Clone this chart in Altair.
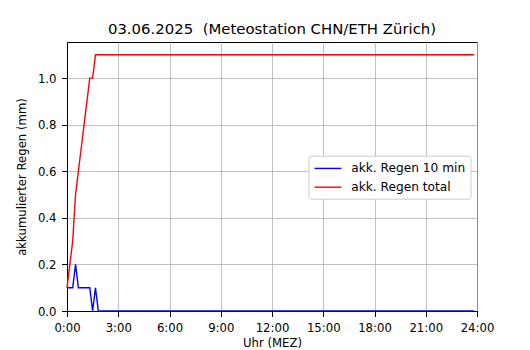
import altair as alt
import pandas as pd

# time of day in minutes after midnight (10-min steps; constant tail after 1:50)
minutes = [0, 10, 20, 30, 40, 50, 60, 70, 80, 90, 100, 110, 1430]
rain_10min = [0.1, 0.1, 0.1, 0.2, 0.1, 0.1, 0.1, 0.1, 0.1, 0.0, 0.1, 0.0, 0.0]
rain_total = [0.1, 0.2, 0.3, 0.5, 0.6, 0.7, 0.8, 0.9, 1.0, 1.0, 1.1, 1.1, 1.1]

series_names = ["akk. Regen 10 min", "akk. Regen total"]
series_colors = ["#0000ff", "#ff0000"]
x_ticks = [0, 180, 360, 540, 720, 900, 1080, 1260, 1440]
y_ticks = [0.0, 0.2, 0.4, 0.6, 0.8, 1.0]

rows = []
for t, v in zip(minutes, rain_10min):
    rows.append({"t": t, "v": v, "s": series_names[0]})
for t, v in zip(minutes, rain_total):
    rows.append({"t": t, "v": v, "s": series_names[1]})
df = pd.DataFrame(rows)

FONT = "DejaVu Sans"

chart = alt.Chart(df).mark_line(strokeWidth=1.4).encode(
    x=alt.X("t:Q",
            scale=alt.Scale(domain=[0, 1440], nice=False, zero=False),
            axis=alt.Axis(values=x_ticks, labelExpr="floor(datum.value/60) + ':00'",
                          title="Uhr (MEZ)", titlePadding=4, labelPadding=5.5,
                          labelFlush=False)),
    y=alt.Y("v:Q",
            scale=alt.Scale(domain=[0, 1.155], nice=False, zero=False),
            axis=alt.Axis(values=y_ticks, format=".1f",
                          title="akkumulierter Regen (mm)", titlePadding=10,
                          labelPadding=5.5)),
    color=alt.Color("s:N",
                    scale=alt.Scale(domain=series_names, range=series_colors),
                    legend=alt.Legend(title=None, orient="none", legendX=241.5, legendY=113.7,
                                      symbolType="M-1,0H3", symbolSize=182,
                                      symbolStrokeWidth=1.4, labelOffset=22.5,
                                      labelFontSize=12.2, labelFont=FONT, labelColor="black",
                                      padding=5.2, rowPadding=4.8,
                                      fillColor="white", strokeColor="#cccccc",
                                      cornerRadius=3)),
    order=alt.Order("t:Q"),
).properties(
    width=410,
    height=269,
    background="white",
    title=alt.TitleParams("03.06.2025\u00a0 (Meteostation CHN/ETH Zürich)",
                          font=FONT, fontSize=14.9, fontWeight="normal",
                          color="black", anchor="middle", offset=5),
    autosize=alt.AutoSizeParams(type="none"),
    padding={"left": 67, "top": 42, "right": 53, "bottom": 39},
).configure_view(
    stroke="black", strokeWidth=1
).configure_axis(
    domainColor="black", domainWidth=1,
    tickColor="black", tickSize=5.5, tickWidth=1,
    gridColor="#b0b0b0", gridWidth=0.8,
    labelFont=FONT, labelFontSize=11.7, labelColor="black",
    titleFont=FONT, titleFontSize=11.7, titleFontWeight="normal", titleColor="black",
)

chart.save("out.html", embed_options={"renderer": "svg", "actions": False})
